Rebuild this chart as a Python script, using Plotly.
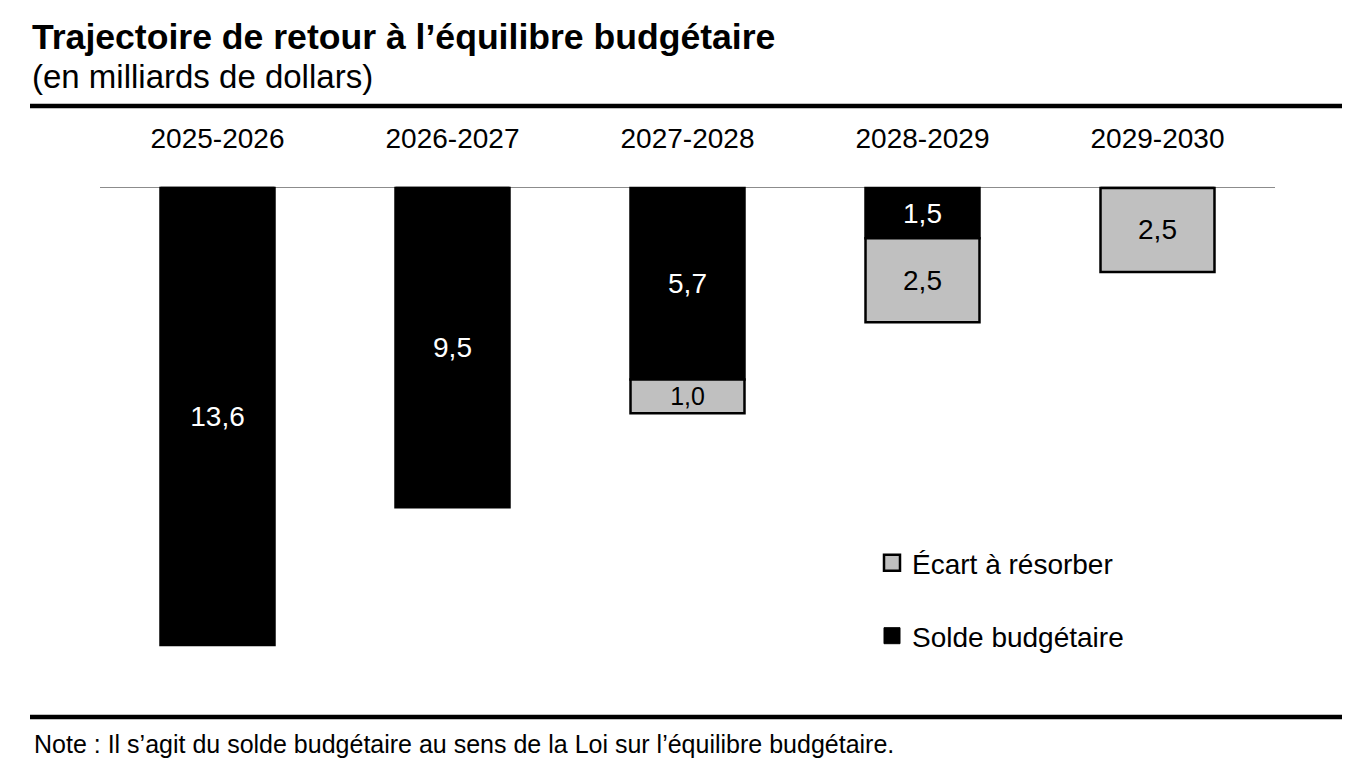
import plotly.graph_objects as go

categories = ["2025-2026", "2026-2027", "2027-2028", "2028-2029", "2029-2030"]
solde = [-13.6, -9.5, -5.7, -1.5, 0.0]
ecart = [0.0, 0.0, -1.0, -2.5, -2.5]

title = "<b>Trajectoire de retour à l’équilibre budgétaire</b>"
subtitle = "(en milliards de dollars)"
note = "Note : Il s’agit du solde budgétaire au sens de la Loi sur l’équilibre budgétaire."

FONT = "Liberation Sans, Arial, sans-serif"
GREY = "#c0c0c0"

def lab(vals):
    return [("%.1f" % abs(v)).replace(".", ",") if v != 0 else "" for v in vals]

OFF = 8  # page body margin
W, H = 1362 - OFF, 782 - OFF
L, R = 100 - OFF, 1275 - OFF
T, B = 161 - OFF, 709 - OFF

def px(x):
    return (x - OFF - L) / (R - L)

def py(y):
    return (B - (y - OFF)) / (B - T)

fig = go.Figure()
fig.add_trace(go.Bar(
    x=categories, y=solde, name="Solde budgétaire",
    marker=dict(color="black", line=dict(color="black", width=2.5)),
    text=lab(solde), textposition="inside", insidetextanchor="middle",
    textfont=dict(color="white", size=28, family=FONT),
    width=0.485, showlegend=False, hoverinfo="skip",
))
fig.add_trace(go.Bar(
    x=categories, y=ecart, name="Écart à résorber",
    marker=dict(color=GREY, line=dict(color="black", width=2.5)),
    text=lab(ecart), textposition="inside", insidetextanchor="middle",
    textfont=dict(color="black", size=28, family=FONT),
    width=0.485, showlegend=False, hoverinfo="skip",
))
# legend entries
fig.add_trace(go.Scatter(
    x=[None], y=[None], mode="markers", name="Écart à résorber",
    marker=dict(symbol="square", size=16, color=GREY,
                line=dict(color="black", width=2.5)),
    legend="legend",
))
fig.add_trace(go.Scatter(
    x=[None], y=[None], mode="markers", name="Solde budgétaire",
    marker=dict(symbol="square", size=16, color="black",
                line=dict(color="black", width=1)),
    legend="legend2",
))

shapes = [
    dict(type="line", xref="paper", yref="paper", x0=px(30), x1=px(1342),
         y0=py(106), y1=py(106), line=dict(color="black", width=4.5)),
    dict(type="line", xref="paper", yref="paper", x0=px(30), x1=px(1342),
         y0=py(717), y1=py(717), line=dict(color="black", width=4.5)),
]

annotations = [
    dict(text=title, xref="paper", yref="paper", x=px(30), y=py(37),
         xanchor="left", yanchor="middle", showarrow=False,
         font=dict(size=35.6, color="black", family=FONT)),
    dict(text=subtitle, xref="paper", yref="paper", x=px(30), y=py(76),
         xanchor="left", yanchor="middle", showarrow=False,
         font=dict(size=33, color="black", family=FONT)),
    dict(text=note, xref="paper", yref="paper", x=px(32), y=py(744),
         xanchor="left", yanchor="middle", showarrow=False,
         font=dict(size=25, color="black", family=FONT)),
]

fig.update_layout(
    width=W, height=H,
    margin=dict(l=L, r=W - R, t=T, b=H - B, pad=0),
    paper_bgcolor="white", plot_bgcolor="white",
    barmode="relative",
    font=dict(family=FONT, color="black"),
    showlegend=True,
    legend=dict(x=px(872), y=py(563), xanchor="left", yanchor="middle",
                font=dict(size=28, family=FONT), bgcolor="rgba(0,0,0,0)"),
    legend2=dict(x=px(872), y=py(636), xanchor="left", yanchor="middle",
                 font=dict(size=28, family=FONT), bgcolor="rgba(0,0,0,0)"),
    shapes=shapes, annotations=annotations,
    xaxis=dict(side="top", showgrid=False, showline=False, ticks="",
               tickfont=dict(size=28, family=FONT), range=[-0.5, 4.5],
               ticklabelstandoff=6),
    yaxis=dict(range=[-15.5, 0.8], showgrid=False, showticklabels=False,
               ticks="", showline=False, zeroline=True,
               zerolinecolor="#8c8c8c", zerolinewidth=1),
)

fig.write_html("out.html")
